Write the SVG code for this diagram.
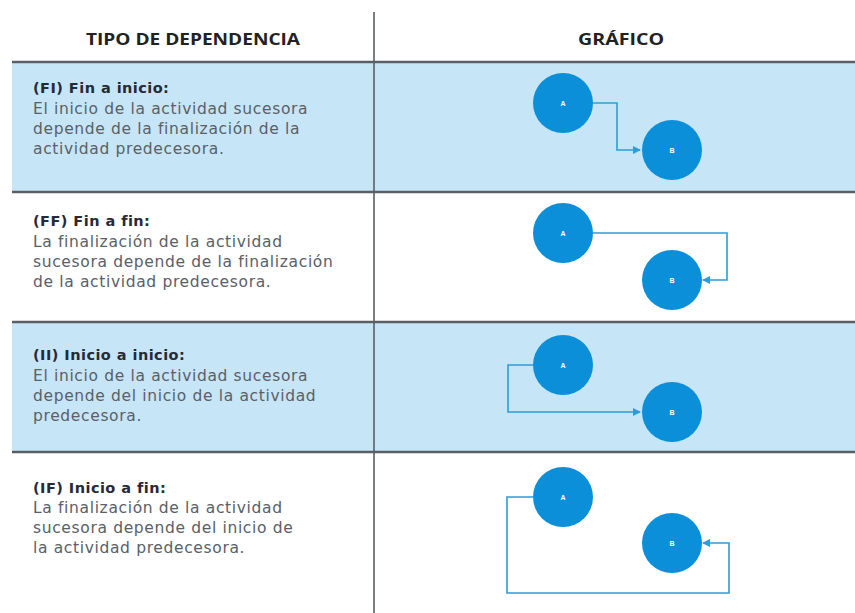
<svg xmlns="http://www.w3.org/2000/svg" width="855" height="613" viewBox="0 0 855 613">
<defs>
<style>
.hdr{font-family:"Open Sans","Liberation Sans",sans-serif;font-weight:bold;font-size:16px;fill:#222;}
.h{font-family:"DejaVu Sans","Open Sans",sans-serif;font-weight:bold;font-size:14.5px;letter-spacing:0.45px;fill:#262a38;}
.b{font-family:"DejaVu Sans","Open Sans",sans-serif;font-size:15.5px;letter-spacing:0.65px;fill:#5a6068;}
.sep{stroke:#5b5f63;stroke-width:2.5;}
.node circle{fill:#0b8fd8;}
.node text{font-family:"Liberation Sans",sans-serif;font-weight:bold;font-size:7px;fill:#fff;text-anchor:middle;}
.conn{fill:none;stroke:#2f9cd6;stroke-width:1.6;marker-end:url(#arr);}
</style>
<marker id="arr" viewBox="0 0 8 8" refX="7" refY="4" markerWidth="5" markerHeight="5" orient="auto" markerUnits="strokeWidth">
<path d="M0,0 L8,4 L0,8 Z" fill="#2f9cd6"/>
</marker>
</defs>
<rect x="0" y="0" width="855" height="613" fill="#fff"/>
<rect x="12" y="62" width="843" height="130" fill="#c6e6f7"/>
<rect x="12" y="322" width="843" height="130" fill="#c6e6f7"/>
<g id="grid">
<line class="sep" x1="12" y1="62" x2="855" y2="62"/>
<line class="sep" x1="12" y1="192" x2="855" y2="192"/>
<line class="sep" x1="12" y1="322" x2="855" y2="322"/>
<line class="sep" x1="12" y1="452" x2="855" y2="452"/>
<line x1="374" y1="12" x2="374" y2="613" stroke="#5b5f63" stroke-width="1.6"/>
</g>
<text class="hdr" x="193" y="45" text-anchor="middle" textLength="214" lengthAdjust="spacingAndGlyphs">TIPO DE DEPENDENCIA</text>
<text class="hdr" x="621" y="45" text-anchor="middle" textLength="86" lengthAdjust="spacingAndGlyphs">GRÁFICO</text>

<g id="text-fi">
<text class="h" x="33" y="93">(FI) Fin a inicio:</text>
<text class="b" x="33" y="114">El inicio de la actividad sucesora</text>
<text class="b" x="33" y="134">depende de la finalización de la</text>
<text class="b" x="33" y="154">actividad predecesora.</text>
</g>
<g id="text-ff">
<text class="h" x="33" y="226">(FF) Fin a fin:</text>
<text class="b" x="33" y="247">La finalización de la actividad</text>
<text class="b" x="33" y="267">sucesora depende de la finalización</text>
<text class="b" x="33" y="287">de la actividad predecesora.</text>
</g>
<g id="text-ii">
<text class="h" x="33" y="360">(II) Inicio a inicio:</text>
<text class="b" x="33" y="381">El inicio de la actividad sucesora</text>
<text class="b" x="33" y="401">depende del inicio de la actividad</text>
<text class="b" x="33" y="421">predecesora.</text>
</g>
<g id="text-if">
<text class="h" x="33" y="493">(IF) Inicio a fin:</text>
<text class="b" x="33" y="513">La finalización de la actividad</text>
<text class="b" x="33" y="533">sucesora depende del inicio de</text>
<text class="b" x="33" y="553">la actividad predecesora.</text>
</g>

<g id="connectors">
<path class="conn" d="M593,103 H617 V150 H640"/>
<path class="conn" d="M593,233 H727 V280 H703"/>
<path class="conn" d="M533,365 H508 V412 H640"/>
<path class="conn" d="M533,497 H507 V593 H729 V543 H703"/>
</g>

<g id="fi-a" class="node"><circle cx="563" cy="103" r="30"/><text x="563" y="106">A</text></g>
<g id="fi-b" class="node"><circle cx="672" cy="150" r="30"/><text x="672" y="153">B</text></g>
<g id="ff-a" class="node"><circle cx="563" cy="233" r="30"/><text x="563" y="236">A</text></g>
<g id="ff-b" class="node"><circle cx="672" cy="280" r="30"/><text x="672" y="283">B</text></g>
<g id="ii-a" class="node"><circle cx="563" cy="365" r="30"/><text x="563" y="368">A</text></g>
<g id="ii-b" class="node"><circle cx="672" cy="412" r="30"/><text x="672" y="415">B</text></g>
<g id="if-a" class="node"><circle cx="563" cy="497" r="30"/><text x="563" y="500">A</text></g>
<g id="if-b" class="node"><circle cx="672" cy="543" r="30"/><text x="672" y="546">B</text></g>
</svg>
